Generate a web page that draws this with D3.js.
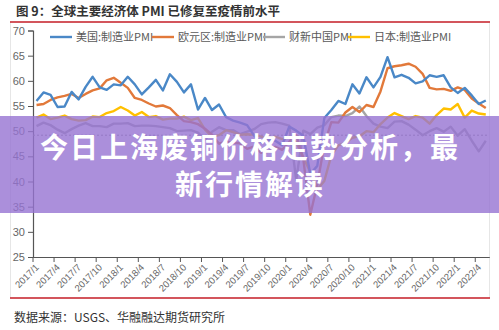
<!DOCTYPE html>
<html><head><meta charset="utf-8">
<script src="https://cdn.jsdelivr.net/npm/d3@7"></script>
<style>
body{margin:0;background:#fff}
svg{display:block}
text{font-family:"Noto Sans CJK SC","Noto Sans",sans-serif}
</style>
</head><body>
<svg id="c" width="499" height="330"></svg>
<script>
// ---------- data ----------
const categories = [
 "2017/1","2017/2","2017/3","2017/4","2017/5","2017/6","2017/7","2017/8","2017/9","2017/10","2017/11","2017/12",
 "2018/1","2018/2","2018/3","2018/4","2018/5","2018/6","2018/7","2018/8","2018/9","2018/10","2018/11","2018/12",
 "2019/1","2019/2","2019/3","2019/4","2019/5","2019/6","2019/7","2019/8","2019/9","2019/10","2019/11","2019/12",
 "2020/1","2020/2","2020/3","2020/4","2020/5","2020/6","2020/7","2020/8","2020/9","2020/10","2020/11","2020/12",
 "2021/1","2021/2","2021/3","2021/4","2021/5","2021/6","2021/7","2021/8","2021/9","2021/10","2021/11","2021/12",
 "2022/1","2022/2","2022/3","2022/4","2022/5"];
const usPMI = [56.0,57.7,57.2,54.8,54.9,57.8,56.3,58.8,60.8,58.7,58.2,59.3,
 59.1,60.8,59.3,57.3,58.7,60.2,58.1,61.3,59.8,57.7,59.3,54.3,
 56.6,54.2,55.3,52.8,52.1,51.7,51.2,49.1,47.8,48.3,48.1,47.2,
 50.9,50.1,49.1,41.5,43.1,52.6,54.2,56.0,55.4,59.3,57.5,60.7,
 58.7,60.8,64.7,60.7,61.2,60.6,59.5,59.9,61.1,60.8,61.1,58.7,
 57.6,58.6,57.1,55.4,56.1];
const euPMI = [55.2,55.4,56.2,56.7,57.0,57.4,56.6,57.4,58.1,58.5,60.1,60.6,
 59.6,58.6,56.6,56.2,55.5,54.9,55.1,54.6,53.2,52.0,51.8,51.4,
 50.5,49.3,47.5,47.9,47.7,47.6,46.5,47.0,45.7,45.9,46.9,46.3,
 47.9,49.2,44.5,33.4,39.4,47.4,51.8,51.7,53.7,54.8,53.8,55.2,
 54.8,57.9,62.5,62.9,63.1,63.4,62.8,61.4,58.6,58.3,58.4,58.0,
 58.7,58.2,56.5,55.5,54.6];
const cnPMI = [51.0,51.7,51.2,50.3,49.6,50.4,51.1,51.6,51.0,51.0,50.8,51.5,
 51.5,51.6,51.0,51.1,51.1,51.0,50.8,50.6,50.0,50.1,50.2,49.7,
 48.3,49.9,50.8,50.2,50.2,49.4,49.9,50.4,51.4,51.7,51.8,51.5,
 51.1,40.3,50.1,49.4,50.7,51.2,52.8,53.1,53.0,53.6,54.9,53.0,
 51.5,50.9,50.6,51.9,52.0,51.3,50.3,49.2,50.0,50.6,49.9,50.9,
 49.1,50.4,48.1,46.0,48.1];
const jpPMI = [52.7,53.3,52.4,52.7,53.1,52.4,52.1,52.2,52.9,52.8,53.6,54.0,
 54.8,54.1,53.1,53.8,52.8,53.0,52.3,52.5,52.5,52.9,52.2,52.6,
 50.3,48.9,49.2,50.2,49.8,49.3,49.4,49.3,48.9,48.4,48.9,48.4,
 48.8,47.8,44.8,41.9,38.4,40.1,45.2,47.2,47.7,48.7,49.0,50.0,
 49.8,51.4,52.7,53.6,53.0,52.4,53.0,52.7,51.5,53.2,54.5,54.3,
 55.4,52.7,54.1,53.5,53.3];
const seriesNames = ["美国:制造业PMI","欧元区:制造业PMI","财新中国PMI","日本:制造业PMI"];
const seriesColors = ["#4A88C7","#E2793A","#A5A5A5","#FFC000"];
const yTicks = [25,30,35,40,45,50,55,60,65,70];
const tickLabels = ["2017/1","2017/4","2017/7","2017/10","2018/1","2018/4","2018/7","2018/10",
 "2019/1","2019/4","2019/7","2019/10","2020/1","2020/4","2020/7","2020/10",
 "2021/1","2021/4","2021/7","2021/10","2022/1","2022/4"];
const refLine = 49.2;
const chartTitle = "图 9：全球主要经济体 PMI 已修复至疫情前水平";
const sourceText = "数据来源：USGS、华融融达期货研究所";
const overlayLines = ["今日上海废铜价格走势分析，最","新行情解读"];

// ---------- drawing ----------
const svg = d3.select("#c");
const x = d3.scaleBand().domain(categories).range([33, 489.3]).padding(0);
const y = d3.scaleLinear().domain([25, 70]).range([257, 30.5]);

// frame
svg.append("rect").attr("x",10.5).attr("y",22).attr("width",479).attr("height",276)
  .attr("fill","none").attr("stroke","#e6e6e6").attr("stroke-width",1);

// title
svg.append("text").attr("x",16).attr("y",15.5).attr("font-size",12.5).attr("font-weight",700)
  .attr("fill","#333").text(chartTitle);
svg.append("line").attr("x1",10).attr("x2",490).attr("y1",22).attr("y2",22)
  .attr("stroke","#C8202A").attr("stroke-width",1.6);

// y axis
const ya = svg.append("g").attr("transform","translate(33,0)")
  .call(d3.axisLeft(y).tickValues(yTicks).tickSize(5).tickPadding(3));
ya.select(".domain").attr("stroke","#555").attr("stroke-width",1.2);
ya.selectAll(".tick line").attr("stroke","#555");
ya.selectAll(".tick text").attr("fill","#666").attr("font-size",11)
  .style("font-family","'Liberation Sans',sans-serif");

// x axis
const xa = svg.append("g").attr("transform",`translate(0,${y(25)})`)
  .call(d3.axisBottom(x).tickValues(tickLabels).tickSize(5).tickSizeOuter(0));
xa.select(".domain").attr("stroke","#555").attr("stroke-width",1.2);
xa.selectAll(".tick line").attr("stroke","#555")
  .attr("x1",-x.step()/2).attr("x2",-x.step()/2);
xa.selectAll(".tick text").attr("fill","#666").attr("font-size",9.5)
  .attr("y",0).attr("dy",0).attr("x",0)
  .attr("text-anchor","end")
  .attr("transform","translate(3,11) rotate(-45)")
  .style("font-family","'Liberation Sans',sans-serif");

// reference dashed line
svg.append("line").attr("x1",33).attr("x2",489)
  .attr("y1",y(refLine)).attr("y2",y(refLine))
  .attr("stroke","#8a8a8a").attr("stroke-width",1).attr("stroke-dasharray","2,2");

// lines
const allSeries = [usPMI, euPMI, cnPMI, jpPMI];
const line = d3.line().x((d,i)=>x(categories[i]) + x.bandwidth()/2).y(d=>y(d));
// draw order: grey, yellow, orange, blue on top
[2,3,1,0].forEach(k=>{
  svg.append("path").datum(allSeries[k]).attr("d",line)
    .attr("fill","none").attr("stroke",seriesColors[k]).attr("stroke-width",2.4)
    .attr("stroke-linejoin","round");
});

// legend
const legendX = [50,152,263,348];
seriesNames.forEach((n,i)=>{
  const g = svg.append("g").attr("transform",`translate(${legendX[i]},37)`);
  g.append("line").attr("x1",0).attr("x2",22).attr("y1",0).attr("y2",0)
    .attr("stroke",seriesColors[i]).attr("stroke-width",2.4);
  g.append("text").attr("x",26).attr("y",4).attr("font-size",11).attr("fill","#595959").text(n);
});

// source
svg.append("line").attr("x1",10).attr("x2",490).attr("y1",298).attr("y2",298)
  .attr("stroke","#C8202A").attr("stroke-width",1.6);
svg.append("text").attr("x",14).attr("y",322).attr("font-size",12).attr("fill","#333").text(sourceText);

// overlay band
svg.append("rect").attr("x",0).attr("y",116).attr("width",499).attr("height",97)
  .attr("fill","rgb(150,115,210)").attr("fill-opacity",0.8);
overlayLines.forEach((t,i)=>{
  svg.append("text").attr("x",250).attr("y",158 + i*37).attr("text-anchor","middle")
    .attr("font-size",28).attr("font-weight",700).attr("fill","#fff")
    .attr("letter-spacing",2).text(t);
});
</script>
</body></html>
